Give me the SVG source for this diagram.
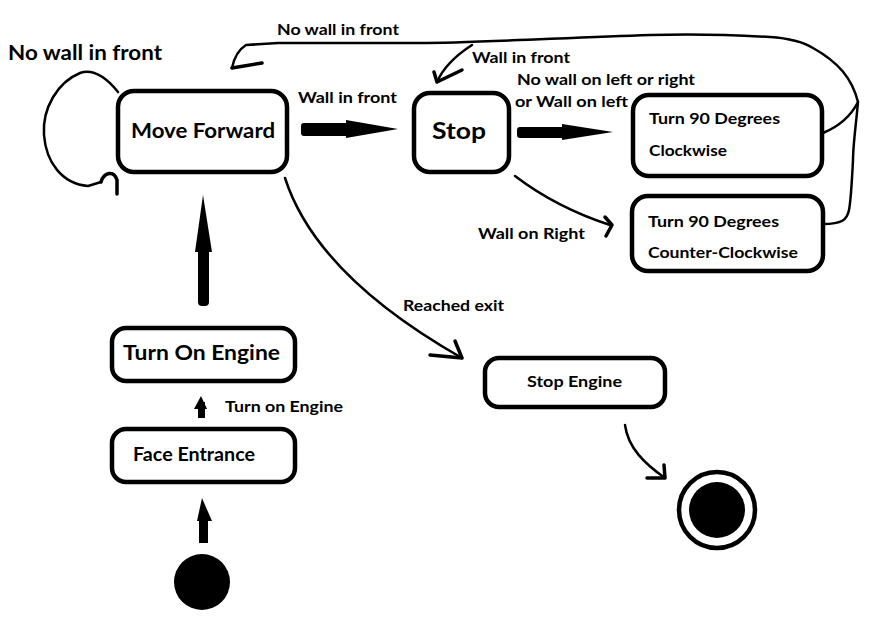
<svg xmlns="http://www.w3.org/2000/svg" width="885" height="620" viewBox="0 0 885 620">
<style>
.box{fill:#fff;stroke:#000;stroke-width:4.5}
.t{font-family:Lato,"Noto Sans",sans-serif;font-weight:bold;fill:#000}
.c{fill:none;stroke:#000;stroke-width:2.5;stroke-linecap:round;stroke-linejoin:round}
.h{fill:none;stroke:#000;stroke-width:3.5;stroke-linecap:round;stroke-linejoin:round}
</style>
<rect width="885" height="620" fill="#fff"/>
<g id="connectors">
  <!-- self loop -->
  <path class="c" d="M118,92 C105,76 92,69 80,73 C58,82 42,108 44,135 C46,162 62,184 88,186 L101,182"/>
  <path class="h" d="M101,182 C104,172 114,170 117,180 L117,194"/>
  <!-- top trunk from turn boxes to Move Forward -->
  <path class="c" d="M823,133 C835,128 850,118 858,102 C852,78 838,62 813,48 C800,40 785,38 770,37 C720,34 680,34 650,35 C560,38 470,43 420,43 L278,43 L246,45 C238,50 234,58 232,68"/>
  <path class="c" d="M858,102 C856,125 853,145 853,160 C852,180 851,200 849,210 C847,220 842,224 823,224"/>
  <path class="h" d="M232,68 L262,63"/>
  <!-- wall in front branch to Stop -->
  <path class="c" d="M472,45 C458,54 444,66 437,82"/>
  <path class="h" d="M437,82 L462,70 M437,82 L434,72"/>
  <!-- MF -> Stop thick -->
  <rect x="301" y="123" width="50" height="13" rx="3"/>
  <polygon points="346,120 398,129 346,138"/>
  <!-- Stop -> CW thick -->
  <rect x="517" y="127" width="50" height="11" rx="3"/>
  <polygon points="562,124 613,132 562,140"/>
  <!-- Stop -> CCW -->
  <path class="c" d="M515,176 C540,195 570,212 610,225"/>
  <path class="h" d="M605,217 L612,225 L606,236"/>
  <!-- reached exit -->
  <path class="c" d="M285,178 C305,240 360,300 462,358"/>
  <path class="h" d="M430,355 L462,358 L455,341"/>
  <!-- Stop engine -> final -->
  <path class="c" d="M625,425 C628,448 645,464 665,478"/>
  <path class="h" d="M647,478 L665,478 L664,465"/>
  <!-- Turn On Engine -> Move Forward -->
  <rect x="198" y="245" width="11" height="61" rx="4"/>
  <polygon points="203,195 212,252 195,252"/>
  <!-- Face -> Turn On small -->
  <rect x="198" y="402" width="7" height="16"/>
  <polygon points="201,396 207,409 194,409"/>
  <!-- initial -> Face -->
  <rect x="199" y="518" width="9" height="25"/>
  <polygon points="202,498 212,521 197,521"/>
</g>
<g id="lbl-self"><text class="t" x="8" y="60" font-size="20" textLength="154" lengthAdjust="spacingAndGlyphs">No wall in front</text></g>
<g id="lbl-top"><text class="t" x="277" y="35" font-size="16" textLength="122" lengthAdjust="spacingAndGlyphs">No wall in front</text></g>
<g id="lbl-wif2"><text class="t" x="472" y="63" font-size="16" textLength="98" lengthAdjust="spacingAndGlyphs">Wall in front</text></g>
<g id="lbl-wif"><text class="t" x="298" y="103" font-size="16" textLength="99" lengthAdjust="spacingAndGlyphs">Wall in front</text></g>
<g id="lbl-nwlr"><text class="t" x="517" y="85" font-size="16" textLength="178" lengthAdjust="spacingAndGlyphs">No wall on left or right</text>
<text class="t" x="515" y="107" font-size="16" textLength="113" lengthAdjust="spacingAndGlyphs">or Wall on left</text></g>
<g id="lbl-wor"><text class="t" x="478" y="239" font-size="16" textLength="107" lengthAdjust="spacingAndGlyphs">Wall on Right</text></g>
<g id="lbl-exit"><text class="t" x="403" y="311" font-size="16" textLength="101" lengthAdjust="spacingAndGlyphs">Reached exit</text></g>
<g id="lbl-engine"><text class="t" x="225" y="412" font-size="16" textLength="118" lengthAdjust="spacingAndGlyphs">Turn on Engine</text></g>

<g id="move-forward"><rect class="box" x="118" y="91" width="169" height="81" rx="16"/>
<text class="t" x="131" y="138" font-size="21" textLength="144" lengthAdjust="spacingAndGlyphs">Move Forward</text></g>
<g id="stop"><rect class="box" x="414" y="93" width="95" height="79" rx="16"/>
<text class="t" x="432" y="139" font-size="22" textLength="54" lengthAdjust="spacingAndGlyphs">Stop</text></g>
<g id="turn-cw"><rect class="box" x="633" y="95" width="189" height="81" rx="16"/>
<text class="t" x="649" y="124" font-size="16" textLength="131" lengthAdjust="spacingAndGlyphs">Turn 90 Degrees</text>
<text class="t" x="649" y="156" font-size="16" textLength="78" lengthAdjust="spacingAndGlyphs">Clockwise</text></g>
<g id="turn-ccw"><rect class="box" x="632" y="196" width="191" height="75" rx="16"/>
<text class="t" x="648" y="227" font-size="16" textLength="131" lengthAdjust="spacingAndGlyphs">Turn 90 Degrees</text>
<text class="t" x="648" y="258" font-size="16" textLength="150" lengthAdjust="spacingAndGlyphs">Counter-Clockwise</text></g>
<g id="turn-on-engine"><rect class="box" x="112" y="328" width="183" height="53" rx="14"/>
<text class="t" x="123" y="360" font-size="21" textLength="157" lengthAdjust="spacingAndGlyphs">Turn On Engine</text></g>
<g id="face-entrance"><rect class="box" x="112" y="429" width="183" height="53" rx="14"/>
<text class="t" x="133" y="461" font-size="18" textLength="122" lengthAdjust="spacingAndGlyphs">Face Entrance</text></g>
<g id="stop-engine"><rect class="box" x="485" y="358" width="180" height="49" rx="14"/>
<text class="t" x="527" y="387" font-size="16" textLength="95" lengthAdjust="spacingAndGlyphs">Stop Engine</text></g>
<g id="initial"><circle cx="202" cy="582" r="28" fill="#000"/></g>
<g id="final"><circle cx="717" cy="510" r="38" fill="#fff" stroke="#000" stroke-width="4.5"/>
<circle cx="717" cy="510" r="28" fill="#000"/></g>
</svg>
